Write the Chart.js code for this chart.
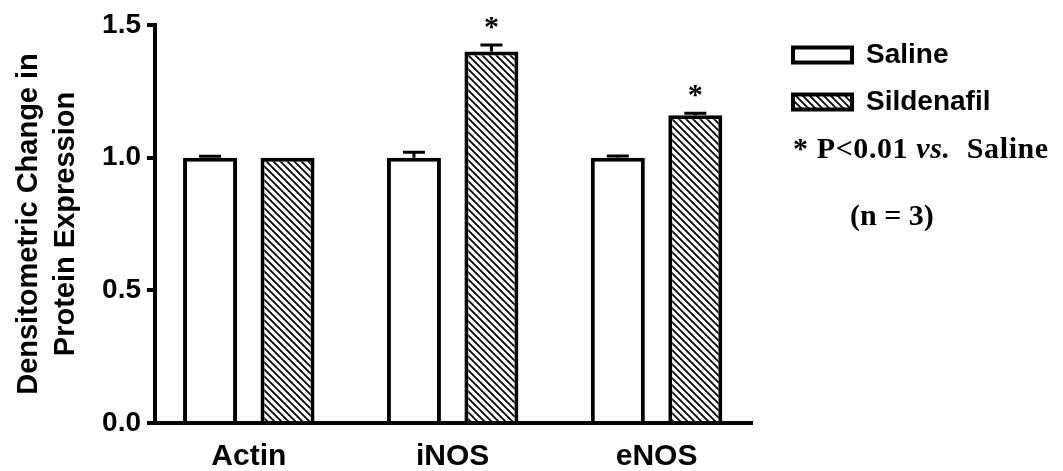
<!DOCTYPE html>
<html><head><meta charset="utf-8">
<script src="https://cdn.jsdelivr.net/npm/chart.js@4.4.1/dist/chart.umd.min.js"></script>
<style>
html,body{margin:0;padding:0;background:#fff;}
#wrap{position:relative;width:1063px;height:471px;}
canvas{position:absolute;left:0;top:0;}
.note{position:absolute;font-family:'Liberation Serif','Times New Roman',serif;font-size:30px;line-height:30px;color:#000;white-space:nowrap;font-weight:bold;}
</style></head><body>
<div id="wrap"><canvas id="c" width="1063" height="471"></canvas>
<div class="note" id="n1" style="left:793px;top:133px;letter-spacing:0.6px">* P&lt;0.01 <i>vs.</i>&nbsp; Saline</div>
<div class="note" id="n2" style="left:850px;top:200px;">(n = 3)</div>
</div>
<script>
const categories = ['Actin', 'iNOS', 'eNOS'];
const seriesNames = ['Saline', 'Sildenafil'];
const salineMeans = [1.00, 1.00, 1.00];
const salineErrors = [0.005, 0.02, 0.006];
const sildenafilMeans = [1.00, 1.40, 1.16];
const sildenafilErrors = [0.0, 0.025, 0.007];
const sildenafilSignificant = [false, true, true];
const yTickValues = [0, 0.5, 1.0, 1.5];
const yAxisTitle = ['Densitometric Change in', 'Protein Expression'];

const canvas = document.getElementById('c');
const mainCtx = canvas.getContext('2d');
const SANS = "'Liberation Sans', Arial, sans-serif";

function makeHatch() {
  const s = 7;
  const c = document.createElement('canvas');
  c.width = s; c.height = s;
  const g = c.getContext('2d');
  g.fillStyle = '#fff'; g.fillRect(0, 0, s, s);
  g.strokeStyle = '#000'; g.lineWidth = 1.8;
  g.beginPath();
  for (const o of [-s, 0, s]) { g.moveTo(o - 1, -1); g.lineTo(o + s + 1, s + 1); }
  g.stroke();
  return mainCtx.createPattern(c, 'repeat');
}
const hatch = makeHatch();

// legend width so that the plot area ends at the x-axis end seen in the reference
const legendFontSize = 28, legendPad = 19, legendBoxW = 59;
mainCtx.font = 'bold ' + legendFontSize + 'px ' + SANS;
const maxLegendText = Math.max(...seriesNames.map(t => mainCtx.measureText(t).width));
const legendWidth = legendPad + legendBoxW + legendFontSize / 2 + maxLegendText + 10;
const plotRight = 752;
const padRight = 1063 - plotRight - legendWidth;

const errorBarPlugin = {
  id: 'errorBars',
  afterDatasetsDraw(chart) {
    const ctx = chart.ctx, y = chart.scales.y;
    const errs = [salineErrors, sildenafilErrors];
    const means = [salineMeans, sildenafilMeans];
    ctx.save();
    ctx.strokeStyle = '#000'; ctx.lineWidth = 3;
    chart.data.datasets.forEach((ds, di) => {
      const meta = chart.getDatasetMeta(di);
      meta.data.forEach((bar, i) => {
        const e = errs[di][i];
        if (!e) return;
        const top = y.getPixelForValue(means[di][i] + e);
        ctx.beginPath();
        ctx.moveTo(bar.x, bar.y); ctx.lineTo(bar.x, top);
        ctx.moveTo(bar.x - 11, top); ctx.lineTo(bar.x + 11, top);
        ctx.stroke();
      });
    });
    ctx.fillStyle = '#000';
    ctx.font = 'bold 30px "Liberation Serif"';
    ctx.textAlign = 'center'; ctx.textBaseline = 'alphabetic';
    chart.getDatasetMeta(1).data.forEach((bar, i) => {
      if (!sildenafilSignificant[i]) return;
      const top = y.getPixelForValue(sildenafilMeans[i] + sildenafilErrors[i]);
      ctx.fillText('*', bar.x, top - 24 + 15);
    });
    ctx.restore();
  }
};

const legendShift = {
  id: 'legendShift',
  afterLayout(chart) {
    const l = chart.legend;
    if (l) { l.left += 22; l.right += 22; l.top -= 3; l.bottom -= 3; }
  }
};

const sansBold = (size) => ({ family: SANS, weight: 'bold', size });

new Chart(mainCtx, {
  type: 'bar',
  data: {
    datasets: [
      {
        label: seriesNames[0],
        data: categories.map((c, i) => ({ x: i + 1, y: salineMeans[i] })),
        backgroundColor: '#ffffff', borderColor: '#000', borderWidth: 4,
        categoryPercentage: 0.76, barPercentage: 0.697
      },
      {
        label: seriesNames[1],
        data: categories.map((c, i) => ({ x: i + 1, y: sildenafilMeans[i] })),
        backgroundColor: hatch, borderColor: '#000', borderWidth: 4,
        categoryPercentage: 0.76, barPercentage: 0.697
      }
    ]
  },
  options: {
    responsive: false, animation: false, devicePixelRatio: 1,
    layout: { padding: { top: 25, right: padRight, bottom: 0, left: 0 } },
    scales: {
      x: {
        type: 'linear', min: 0.54, max: 3.468, bounds: 'data', offset: false,
        afterBuildTicks: s => { s.ticks = categories.map((c, i) => ({ value: i + 1 })); },
        ticks: { callback: v => categories[Math.round(v) - 1], font: sansBold(30), color: '#000', padding: 8, maxRotation: 0, autoSkip: false },
        grid: { display: false, offset: false },
        border: { display: true, width: 4, color: '#000' },
        afterFit: s => { s.height = 48; }
      },
      y: {
        min: 0, max: 1.5,
        afterBuildTicks: s => { s.ticks = yTickValues.map(v => ({ value: v })); },
        ticks: { callback: v => Number(v).toFixed(1), font: sansBold(28), color: '#000', padding: 6 },
        grid: { drawOnChartArea: false, drawTicks: true, tickLength: 8, lineWidth: 4, color: '#000' },
        border: { display: true, width: 4, color: '#000' },
        title: { display: true, text: yAxisTitle, color: '#000', font: { family: SANS, weight: 'bold', size: 29, lineHeight: 1.28 }, padding: { top: 10.5, bottom: 0 } },
        afterFit: s => { s.width = 155; }
      }
    },
    plugins: {
      legend: {
        position: 'right', align: 'start',
        labels: { boxWidth: legendBoxW, boxHeight: 15, padding: legendPad, color: '#000', font: sansBold(legendFontSize) }
      },
      tooltip: { enabled: false }
    }
  },
  plugins: [errorBarPlugin, legendShift]
});
</script>
</body></html>
